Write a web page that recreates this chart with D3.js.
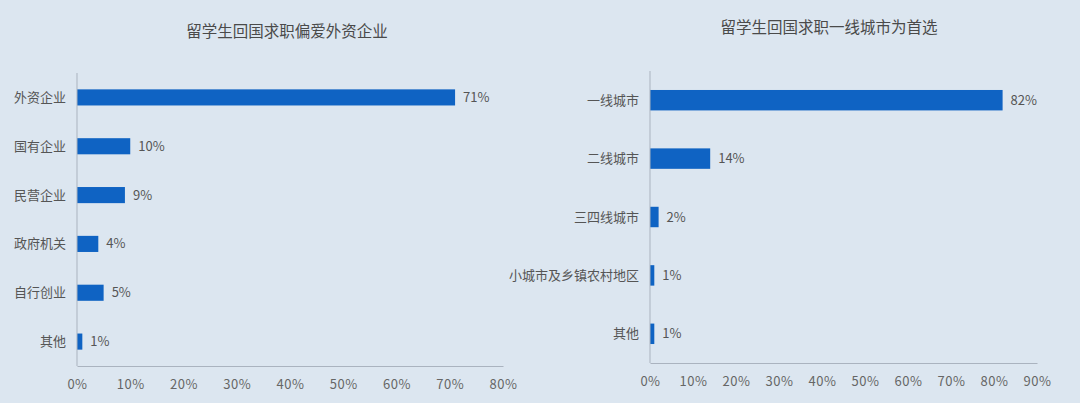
<!DOCTYPE html>
<html lang="zh">
<head>
<meta charset="UTF-8">
<title>留学生回国求职</title>
<script src="https://d3js.org/d3.v7.min.js"></script>
<style>
  body { margin: 0; background: #dce6f0; font-family: "Noto Sans CJK SC", "Noto Sans", sans-serif; }
  svg { display: block; }
  .title { font-size: 15.5px; fill: #4a4a4a; text-anchor: middle; }
  .cat { font-size: 13px; fill: #555; }
  .val { font-size: 13px; fill: #555; }
  .tick text { font-size: 13px; fill: #666; letter-spacing: 0.5px; }
</style>
</head>
<body>
<svg id="chart"></svg>
<script>
const width = 1080, height = 403;

// left chart data
const leftTitle = "留学生回国求职偏爱外资企业";
const leftCats = ["外资企业", "国有企业", "民营企业", "政府机关", "自行创业", "其他"];
const leftVals = [71, 10, 9, 4, 5, 1];
const leftTicks = [0, 10, 20, 30, 40, 50, 60, 70, 80];

// right chart data
const rightTitle = "留学生回国求职一线城市为首选";
const rightCats = ["一线城市", "二线城市", "三四线城市", "小城市及乡镇农村地区", "其他"];
const rightVals = [82, 14, 2, 1, 1];
const rightTicks = [0, 10, 20, 30, 40, 50, 60, 70, 80, 90];

const svg = d3.select("#chart").attr("width", width).attr("height", height);

function drawBars(opts) {
    const g = svg.append("g");
    const x = d3.scaleLinear().domain([0, opts.max]).range([opts.x0, opts.x1]);
    const y = d3.scaleBand().domain(opts.cats).range([opts.y0, opts.y1])
        .paddingInner(opts.pad).paddingOuter(opts.pad / 2);

    g.append("text").attr("class", "title")
        .attr("x", opts.titleX).attr("y", opts.titleY)
        .text(opts.title);

    // bars
    g.selectAll("rect").data(opts.vals).enter().append("rect")
        .attr("x", x(0))
        .attr("y", (d, i) => y(opts.cats[i]))
        .attr("width", d => x(d) - x(0))
        .attr("height", y.bandwidth())
        .attr("fill", "#0f63c3");

    // value labels
    g.selectAll(".val").data(opts.vals).enter().append("text")
        .attr("class", "val")
        .attr("x", d => x(d) + 8)
        .attr("y", (d, i) => y(opts.cats[i]) + y.bandwidth() / 2)
        .attr("dy", "0.35em")
        .text(d => d + "%");

    // category labels
    g.selectAll(".cat").data(opts.cats).enter().append("text")
        .attr("class", "cat")
        .attr("x", x(0) - 11)
        .attr("y", d => y(d) + y.bandwidth() / 2)
        .attr("dy", "0.35em")
        .attr("text-anchor", "end")
        .text(d => d);

    // axes lines
    g.append("line")
        .attr("x1", x(0)).attr("x2", x(0))
        .attr("y1", opts.y0).attr("y2", opts.y1)
        .attr("stroke", "#aab3bf");

    const xAxis = g.append("g")
        .attr("transform", `translate(0,${opts.y1})`)
        .call(d3.axisBottom(x).tickValues(opts.ticks).tickSize(0).tickPadding(14)
            .tickFormat(d => d + "%"));
    xAxis.select(".domain").attr("stroke", "#aab3bf");
    xAxis.selectAll("text").attr("font-family", "Noto Sans CJK SC, sans-serif");
}

drawBars({
    title: leftTitle, titleX: 287, titleY: 37,
    cats: leftCats, vals: leftVals, ticks: leftTicks, max: 80,
    x0: 77, x1: 503, y0: 73, y1: 366, pad: 0.67
});

drawBars({
    title: rightTitle, titleX: 829, titleY: 33,
    cats: rightCats, vals: rightVals, ticks: rightTicks, max: 90,
    x0: 650, x1: 1037, y0: 71, y1: 363, pad: 0.65
});
</script>
</body>
</html>
